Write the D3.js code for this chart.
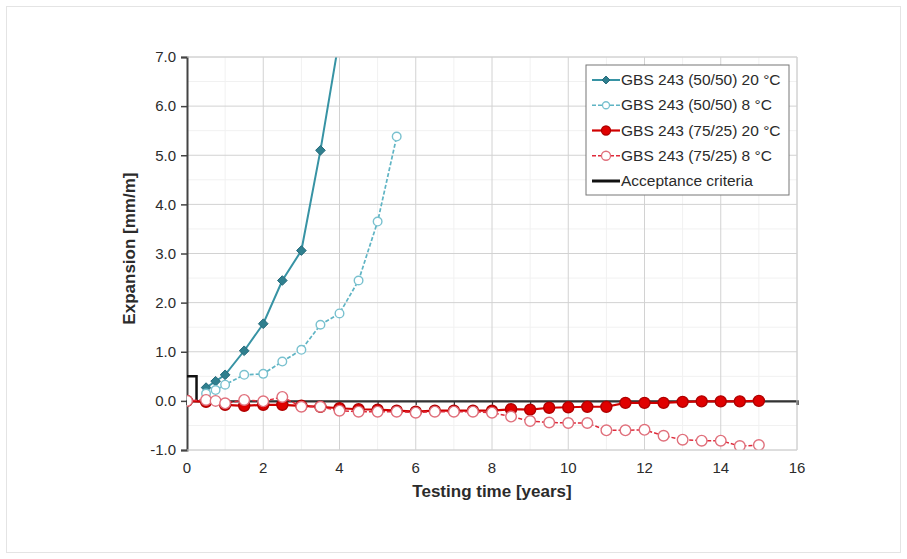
<!doctype html>
<html>
<head>
<meta charset="utf-8">
<script src="https://cdn.jsdelivr.net/npm/d3@7"></script>
<style>
  body { margin: 0; background: #fff; }
  text { font-family: "Liberation Sans", Arial, sans-serif; fill: #2b2b2b; }
</style>
</head>
<body>
<div id="chart"></div>
<script>
// series values (years, mm/m)
var teal20X = [0.5, 0.75, 1.0, 1.5, 2.0, 2.5, 3.0, 3.5, 4.0];
var teal20Y = [0.27, 0.40, 0.53, 1.02, 1.57, 2.45, 3.06, 5.10, 7.40];

var teal8X = [0.5, 0.75, 1.0, 1.5, 2.0, 2.5, 3.0, 3.5, 4.0, 4.5, 5.0, 5.5];
var teal8Y = [0.15, 0.22, 0.33, 0.53, 0.55, 0.80, 1.04, 1.55, 1.78, 2.45, 3.65, 5.38];

var red20X = [0, 0.5, 1.0, 1.5, 2.0, 2.5, 3.0, 3.5, 4.0, 4.5, 5.0, 5.5, 6.0, 6.5, 7.0, 7.5,
              8.0, 8.5, 9.0, 9.5, 10.0, 10.5, 11.0, 11.5, 12.0, 12.5, 13.0, 13.5, 14.0, 14.5, 15.0];
var red20Y = [0.0, -0.02, -0.08, -0.10, -0.08, -0.08, -0.10, -0.12, -0.15, -0.17, -0.18, -0.20, -0.22, -0.20, -0.20, -0.20,
              -0.20, -0.17, -0.18, -0.14, -0.13, -0.12, -0.12, -0.04, -0.04, -0.04, -0.02, -0.01, -0.01, -0.01, 0.0];

var red8X = [0, 0.5, 0.75, 1.0, 1.5, 2.0, 2.5, 3.0, 3.5, 4.0, 4.5, 5.0, 5.5, 6.0, 6.5, 7.0, 7.5,
             8.0, 8.5, 9.0, 9.5, 10.0, 10.5, 11.0, 11.5, 12.0, 12.5, 13.0, 13.5, 14.0, 14.5, 15.0];
var red8Y = [0.0, 0.02, 0.0, -0.05, 0.02, -0.01, 0.08, -0.12, -0.12, -0.20, -0.22, -0.22, -0.22, -0.24, -0.22, -0.22, -0.22,
             -0.24, -0.32, -0.41, -0.44, -0.45, -0.45, -0.60, -0.60, -0.59, -0.71, -0.79, -0.81, -0.81, -0.92, -0.90];

var acceptX = [0, 0.25, 0.25];
var acceptY = [0.5, 0.5, 0];

var legendLabels = ["GBS 243 (50/50) 20 °C", "GBS 243 (50/50) 8 °C",
                    "GBS 243 (75/25) 20 °C", "GBS 243 (75/25) 8 °C", "Acceptance criteria"];
var xTicks = [0, 2, 4, 6, 8, 10, 12, 14, 16];
var yTicks = [-1, 0, 1, 2, 3, 4, 5, 6, 7];

var W = 907, H = 559;
var pLeft = 187, pRight = 797, pTop = 57, pBottom = 450;

var svg = d3.select("#chart").append("svg").attr("width", W).attr("height", H);
svg.append("rect").attr("x", 6.5).attr("y", 6.5).attr("width", W - 13).attr("height", H - 13)
   .attr("fill", "#fff").attr("stroke", "#e4e4e4");

var x = d3.scaleLinear().domain([0, 16]).range([pLeft, pRight]);
var y = d3.scaleLinear().domain([-1, 7]).range([pBottom, pTop]);

svg.append("defs").append("clipPath").attr("id", "plot")
   .append("rect").attr("x", pLeft).attr("y", pTop).attr("width", pRight - pLeft).attr("height", pBottom - pTop);

// faint minor grid
var g = svg.append("g");
g.selectAll(".mx").data(d3.range(1, 16, 2)).enter().append("line")
  .attr("x1", d => x(d)).attr("x2", d => x(d)).attr("y1", pTop).attr("y2", pBottom)
  .attr("stroke", "#f1f1f1");
g.selectAll(".my").data(d3.range(-0.5, 7, 1)).enter().append("line")
  .attr("x1", pLeft).attr("x2", pRight).attr("y1", d => y(d)).attr("y2", d => y(d))
  .attr("stroke", "#f1f1f1");
// major grid
g.selectAll(".gx").data(xTicks.slice(1)).enter().append("line")
  .attr("x1", d => x(d)).attr("x2", d => x(d)).attr("y1", pTop).attr("y2", pBottom)
  .attr("stroke", "#d2d2d2");
g.selectAll(".gy").data(yTicks).enter().append("line")
  .attr("x1", pLeft).attr("x2", pRight).attr("y1", d => y(d)).attr("y2", d => y(d))
  .attr("stroke", "#d2d2d2");

// y axis (hyphen minus like the original)
var fmt = d3.format(".1f");
var yAxis = d3.axisLeft(y).tickValues(yTicks).tickSize(6).tickPadding(5)
  .tickFormat(d => fmt(d).replace("\u2212", "-"));
var ya = svg.append("g").attr("transform", "translate(" + pLeft + ",0)").call(yAxis);
ya.select(".domain").attr("stroke", "#444").attr("stroke-width", 2);
ya.selectAll(".tick line").attr("stroke", "#444").attr("stroke-width", 1.5);
ya.selectAll("text").attr("font-size", 15).style("font-family", "Liberation Sans, Arial").attr("fill", "#333");

// x axis: line at y=0, labels at bottom
var xa = svg.append("g").attr("transform", "translate(0," + y(0) + ")")
  .call(d3.axisBottom(x).ticks(16).tickSize(4).tickFormat(""));
xa.select(".domain").attr("stroke", "#333").attr("stroke-width", 2.4);
xa.selectAll(".tick line").attr("stroke", "#333").attr("stroke-width", 1.2);

svg.append("g").selectAll("text").data(xTicks).enter().append("text")
  .attr("x", d => x(d)).attr("y", pBottom + 23).attr("text-anchor", "middle")
  .attr("font-size", 15).attr("fill", "#333").text(d => d);

svg.append("text").attr("x", x(8)).attr("y", pBottom + 47).attr("text-anchor", "middle")
  .attr("font-size", 17).attr("font-weight", "bold").text("Testing time [years]");
svg.append("text").attr("transform", "translate(135," + y(3.1) + ") rotate(-90)")
  .attr("text-anchor", "middle").attr("font-size", 17).attr("font-weight", "bold").text("Expansion [mm/m]");

var line = d3.line().x(d => x(d[0])).y(d => y(d[1]));
var plot = svg.append("g").attr("clip-path", "url(#plot)");

// acceptance criteria
plot.append("path").datum(d3.zip(acceptX, acceptY)).attr("d", line)
  .attr("fill", "none").attr("stroke", "#111").attr("stroke-width", 2.5);

var series = [
  {xs: teal20X, ys: teal20Y, line: "#3793a4", dash: null, w: 2, shape: "diamond", fill: "#2f7f8e", stroke: "#24697a", size: 5.2},
  {xs: teal8X, ys: teal8Y, line: "#5fb4c4", dash: "4,2", w: 1.7, shape: "circle", fill: "#fff", stroke: "#79c1cf", size: 4.3},
  {xs: red20X, ys: red20Y, line: "#d00000", dash: null, w: 2.2, shape: "circle", fill: "#e00000", stroke: "#b00000", size: 5.5},
  {xs: red8X, ys: red8Y, line: "#df2a3a", dash: "4,2", w: 1.5, shape: "circle", fill: "#fff", stroke: "#e0707c", size: 5.3}
];

series.forEach(function(s) {
  var pts = d3.zip(s.xs, s.ys);
  plot.append("path").datum(pts).attr("d", line).attr("fill", "none")
    .attr("stroke", s.line).attr("stroke-width", s.w).attr("stroke-dasharray", s.dash);
  var m = plot.selectAll(null).data(pts).enter();
  if (s.shape === "diamond") {
    m.append("path").attr("d", d3.symbol(d3.symbolDiamond2, s.size * s.size * 2.2))
      .attr("transform", d => "translate(" + x(d[0]) + "," + y(d[1]) + ")")
      .attr("fill", s.fill).attr("stroke", s.stroke).attr("stroke-width", 1);
  } else {
    m.append("circle").attr("cx", d => x(d[0])).attr("cy", d => y(d[1])).attr("r", s.size)
      .attr("fill", s.fill).attr("stroke", s.stroke).attr("stroke-width", 1.4);
  }
});

// plot frame (top/right/bottom light)
svg.append("path").attr("d", "M" + pLeft + "," + pTop + "H" + pRight + "V" + pBottom + "H" + pLeft)
  .attr("fill", "none").attr("stroke", "#d2d2d2");

// legend
var lg = svg.append("g").attr("transform", "translate(586,65)");
lg.append("rect").attr("width", 203).attr("height", 130).attr("fill", "#fff").attr("stroke", "#777");
var rowY = d3.scaleLinear().domain([0, 4]).range([15, 116]);
legendLabels.forEach(function(lab, i) {
  var yy = rowY(i);
  var r = lg.append("g").attr("transform", "translate(0," + yy + ")");
  if (i < 4) {
    var s = series[i];
    r.append("line").attr("x1", 6).attr("x2", 34).attr("stroke", s.line).attr("stroke-width", s.w)
      .attr("stroke-dasharray", s.dash);
    if (s.shape === "diamond") {
      r.append("path").attr("d", d3.symbol(d3.symbolDiamond2, 40)).attr("transform", "translate(20,0)")
        .attr("fill", s.fill).attr("stroke", s.stroke);
    } else {
      r.append("circle").attr("cx", 20).attr("r", i === 1 ? 3.5 : 4.5).attr("fill", s.fill)
        .attr("stroke", s.stroke).attr("stroke-width", 1.3);
    }
  } else {
    r.append("line").attr("x1", 6).attr("x2", 34).attr("stroke", "#111").attr("stroke-width", 3);
  }
  r.append("text").attr("x", 35).attr("y", 5).attr("font-size", 15.5).attr("fill", "#333").text(lab);
});
</script>
</body>
</html>
